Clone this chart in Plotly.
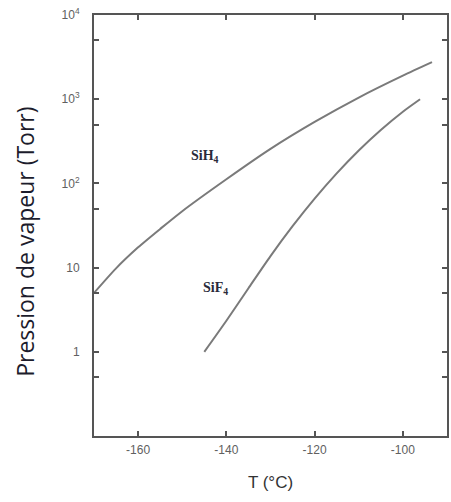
import math
import plotly.graph_objects as go

# SiH4 vapour pressure curve (T in °C, P in Torr)
sih4_T = [-170, -165, -160, -155, -150, -140, -130, -120, -110, -100, -93.4]
sih4_P = [5.0, 9.8, 17.4, 28.8, 46.8, 112, 257, 537, 1047, 1905, 2754]

# SiF4 vapour pressure curve
sif4_T = [-145, -140, -135, -130, -125, -120, -115, -110, -105, -100, -96.1]
sif4_P = [1.0, 2.34, 5.69, 13.7, 31.0, 65.9, 131.5, 246, 431, 711, 1000]

x_ticks = [-160, -140, -120, -100]
x_ticktext = ["-160", "-140", "-120", "-100"]
y_ticks = [0.5, 1, 5, 10, 50, 100, 500, 1000, 5000, 10000]
y_ticktext = ["", "1", "", "10", "", "10<sup>2</sup>", "", "10<sup>3</sup>", "", "10<sup>4</sup>"]

line_col = "#7a7a7a"
fig = go.Figure()
fig.add_trace(go.Scatter(x=sih4_T, y=sih4_P, mode="lines",
                         line=dict(color=line_col, width=2, shape="spline", smoothing=0.7),
                         showlegend=False, hoverinfo="skip"))
fig.add_trace(go.Scatter(x=sif4_T, y=sif4_P, mode="lines",
                         line=dict(color=line_col, width=2, shape="spline", smoothing=0.7),
                         showlegend=False, hoverinfo="skip"))

lab_font = dict(family="Liberation Serif, Times New Roman, serif", size=14, color="#2a2a3a")
# annotation positions on a log axis are given in log10 units
fig.add_annotation(x=-144.8, y=math.log10(210), text="<b>SiH<sub>4</sub></b>",
                   showarrow=False, font=lab_font, xanchor="center", yanchor="middle")
fig.add_annotation(x=-142.4, y=math.log10(5.6), text="<b>SiF<sub>4</sub></b>",
                   showarrow=False, font=lab_font, xanchor="center", yanchor="middle")

# y-axis title placed as a rotated annotation
fig.add_annotation(xref="paper", yref="paper", x=-0.194, y=0.46,
                   text="Pression de vapeur (Torr)", textangle=-90, showarrow=False,
                   xanchor="center", yanchor="middle",
                   font=dict(family="Open Sans, Noto Sans, sans-serif", size=23, color="#1c1c2c"))

axis_col = "#555555"
tick_font = dict(family="Liberation Sans, Arial, sans-serif", size=12, color="#606060")
fig.update_xaxes(range=[-170, -90], tickvals=x_ticks, ticktext=x_ticktext,
                 showline=True, linecolor=axis_col, linewidth=2, mirror="allticks",
                 ticks="inside", ticklen=5, tickwidth=2, tickcolor=axis_col,
                 showgrid=False, zeroline=False, tickfont=tick_font, ticklabelstandoff=2,
                 title=dict(text="T (°C)", font=dict(family="Liberation Sans, Arial, sans-serif",
                                                      size=17, color="#333333"), standoff=20))
fig.update_yaxes(type="log", range=[-1, 4], tickvals=y_ticks, ticktext=y_ticktext,
                 showline=True, linecolor=axis_col, linewidth=2, mirror="allticks",
                 ticks="inside", ticklen=5, tickwidth=2, tickcolor=axis_col,
                 showgrid=False, zeroline=False, tickfont=tick_font, ticklabelstandoff=10)

fig.update_layout(width=451, height=502, margin=dict(l=94, r=2, t=15, b=66),
                  paper_bgcolor="white", plot_bgcolor="white")
fig.write_html("out.html")
